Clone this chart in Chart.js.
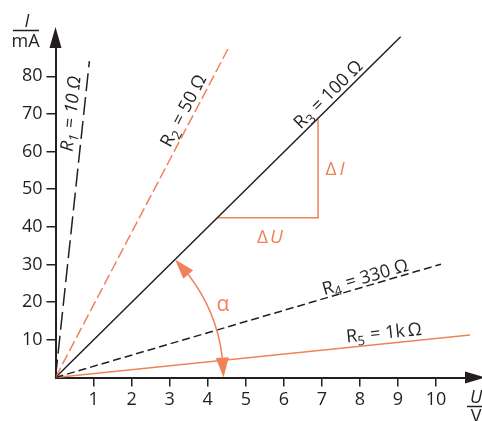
<!DOCTYPE html>
<html>
<head>
<meta charset="utf-8">
<script src="https://cdn.jsdelivr.net/npm/chart.js@4.4.1/dist/chart.umd.min.js"></script>
<style>
  html, body { margin: 0; padding: 0; background: #fff; }
  #wrap { width: 482px; height: 421px; }
</style>
</head>
<body>
<div id="wrap"><canvas id="ohmChart" width="482" height="421"></canvas></div>
<script>
// values: end points of each straight line (U in V, I in mA)
const resistorIndex = ["1", "2", "3", "4", "5"];
const resistorText = ["10 Ω", "50 Ω", "100 Ω", "330 Ω", "1k\u2009Ω"];
const endU = [0.89, 4.57, 9.07, 10.13, 10.89];
const endI = [84, 88, 90.5, 30.1, 11.3];

// slope triangle on R3
const deltaU = [4.27, 6.9];
const deltaI = [42.4, 68.6];

const xTicks = [1, 2, 3, 4, 5, 6, 7, 8, 9, 10];
const yTicks = [10, 20, 30, 40, 50, 60, 70, 80];

const INK = "#231f20";
const ORANGE = "#f0825a";
const FONT = "'Open Sans', 'Noto Sans', sans-serif";

const lineColors = [INK, ORANGE, INK, INK, ORANGE];
const lineDashes = [[18, 6], [11, 4], [], [8, 4], []];
// where the label sits along the line (fraction) and how far above it (px)
const labelPlace = [[0.83, 13], [0.79, 11], [0.81, 10], [0.81, 9], [0.795, 11]];

const datasets = endU.map((u, i) => ({
    label: "R" + resistorIndex[i],
    data: [{ x: 0, y: 0 }, { x: u, y: endI[i] }],
    showLine: true,
    borderColor: lineColors[i],
    borderDash: lineDashes[i],
    borderWidth: 1.5,
    pointRadius: 0,
    fill: false,
    clip: false
}));

datasets.push({
    label: "delta",
    data: [
        { x: deltaU[0], y: deltaI[0] },
        { x: deltaU[1], y: deltaI[0] },
        { x: deltaU[1], y: deltaI[1] }
    ],
    showLine: true,
    borderColor: ORANGE,
    borderWidth: 1.5,
    pointRadius: 0,
    fill: false,
    clip: false
});

function arrowHead(ctx, tipX, tipY, baseX, baseY, half) {
    const dx = tipX - baseX, dy = tipY - baseY;
    const len = Math.hypot(dx, dy);
    const nx = -dy / len, ny = dx / len;
    ctx.beginPath();
    ctx.moveTo(tipX, tipY);
    ctx.lineTo(baseX + nx * half, baseY + ny * half);
    ctx.lineTo(baseX - nx * half, baseY - ny * half);
    ctx.closePath();
    ctx.fill();
}

// draws text pieces (normal, subscript, italic) centred on cx,cy and rotated
function richText(ctx, parts, cx, cy, angle, color) {
    ctx.save();
    ctx.translate(cx, cy);
    ctx.rotate(angle);
    ctx.fillStyle = color;
    ctx.textBaseline = "alphabetic";
    ctx.textAlign = "left";
    let total = 0;
    parts.forEach(p => {
        ctx.font = (p.italic ? "italic " : "") + p.size + "px " + FONT;
        p.w = ctx.measureText(p.text).width;
        total += p.w + (p.gap || 0);
    });
    let x = -total / 2;
    parts.forEach(p => {
        ctx.font = (p.italic ? "italic " : "") + p.size + "px " + FONT;
        ctx.fillText(p.text, x, 6 + (p.dy || 0));
        x += p.w + (p.gap || 0);
    });
    ctx.restore();
}

const decorations = {
    id: "decorations",
    afterDatasetsDraw(chart) {
        const ctx = chart.ctx;
        const xs = chart.scales.x, ys = chart.scales.y;
        const ox = xs.getPixelForValue(0), oy = ys.getPixelForValue(0);

        ctx.save();
        // axis arrows
        ctx.fillStyle = INK;
        arrowHead(ctx, ox, 27, ox, 48, 6);
        arrowHead(ctx, 485, oy, 465, oy, 6);

        // labels along the lines
        endU.forEach((u, i) => {
            const ex = xs.getPixelForValue(u), ey = ys.getPixelForValue(endI[i]);
            const len = Math.hypot(ex - ox, ey - oy);
            const ux = (ex - ox) / len, uy = (ey - oy) / len;
            const [t, d] = labelPlace[i];
            const px = ox + (ex - ox) * t + uy * d;
            const py = oy + (ey - oy) * t - ux * d;
            const italic = i === 0;
            richText(ctx, [
                { text: "R", size: 18, italic: italic },
                { text: resistorIndex[i], size: 13, dy: 4, italic: italic, gap: 1 },
                { text: " = " + resistorText[i], size: 18, italic: italic }
            ], px, py, Math.atan2(uy, ux), INK);
        });

        // angle alpha between U axis and R3
        const e3x = xs.getPixelForValue(endU[2]), e3y = ys.getPixelForValue(endI[2]);
        const a3 = Math.atan2(e3y - oy, e3x - ox);
        const r = 168, head = 20 / r;
        ctx.strokeStyle = ORANGE;
        ctx.fillStyle = ORANGE;
        ctx.lineWidth = 1.5;
        ctx.beginPath();
        ctx.arc(ox, oy, r, -head, a3 + head, true);
        ctx.stroke();
        arrowHead(ctx, ox + r, oy, ox + r * Math.cos(-head), oy + r * Math.sin(-head), 6.5);
        arrowHead(ctx, ox + r * Math.cos(a3), oy + r * Math.sin(a3),
            ox + r * Math.cos(a3 + head), oy + r * Math.sin(a3 + head), 6.5);
        richText(ctx, [{ text: "α", size: 21 }],
            ox + 181 * Math.cos(a3 / 2), oy + 181 * Math.sin(a3 / 2) - 4, 0, ORANGE);

        // ΔU and ΔI
        const hx = (xs.getPixelForValue(deltaU[0]) + xs.getPixelForValue(deltaU[1])) / 2;
        const hy = ys.getPixelForValue(deltaI[0]);
        richText(ctx, [{ text: "Δ", size: 19, gap: 2 }, { text: "U", size: 19, italic: true }],
            hx + 2, hy + 19, 0, ORANGE);
        const vx = xs.getPixelForValue(deltaU[1]);
        const vy = (ys.getPixelForValue(deltaI[0]) + ys.getPixelForValue(deltaI[1])) / 2;
        richText(ctx, [{ text: "Δ", size: 19, gap: 3 }, { text: "I", size: 19, italic: true }],
            vx + 17, vy, 0, ORANGE);

        // axis titles as fractions
        ctx.fillStyle = INK;
        ctx.strokeStyle = INK;
        ctx.lineWidth = 1.5;
        ctx.textAlign = "center";
        ctx.textBaseline = "alphabetic";
        ctx.font = "italic 18px " + FONT;
        ctx.fillText("I", 27, 27);
        ctx.font = "18px " + FONT;
        ctx.fillText("mA", 25.5, 46.5);
        ctx.beginPath();
        ctx.moveTo(13, 30.5);
        ctx.lineTo(39, 30.5);
        ctx.stroke();

        ctx.font = "italic 18px " + FONT;
        ctx.fillText("U", 476, 403);
        ctx.font = "18px " + FONT;
        ctx.fillText("V", 476, 422);
        ctx.beginPath();
        ctx.moveTo(467, 406.5);
        ctx.lineTo(486, 406.5);
        ctx.stroke();
        ctx.restore();
    }
};

new Chart(document.getElementById("ohmChart"), {
    type: "scatter",
    data: { datasets: datasets },
    options: {
        responsive: false,
        animation: false,
        devicePixelRatio: 1,
        layout: { padding: { top: 38.6, right: 7.9, left: 0, bottom: 0 } },
        plugins: {
            legend: { display: false },
            tooltip: { enabled: false }
        },
        scales: {
            x: {
                type: "linear",
                min: 0,
                max: 11,
                afterBuildTicks: scale => { scale.ticks = xTicks.map(v => ({ value: v })); },
                afterFit: scale => { scale.height = 43.5; },
                grid: { drawOnChartArea: false, drawTicks: true, tickLength: 9, color: INK, lineWidth: 1.5 },
                border: { display: true, color: INK, width: 2 },
                ticks: {
                    autoSkip: false, maxRotation: 0, padding: 3,
                    color: INK, font: { family: FONT, size: 18 }
                }
            },
            y: {
                type: "linear",
                min: 0,
                max: 90,
                afterBuildTicks: scale => { scale.ticks = yTicks.map(v => ({ value: v })); },
                afterFit: scale => { scale.width = 55.5; },
                grid: { drawOnChartArea: false, drawTicks: true, tickLength: 9, color: INK, lineWidth: 1.5 },
                border: { display: true, color: INK, width: 2 },
                ticks: {
                    autoSkip: false, padding: 4,
                    color: INK, font: { family: FONT, size: 18 }
                }
            }
        }
    },
    plugins: [decorations]
});
</script>
</body>
</html>
